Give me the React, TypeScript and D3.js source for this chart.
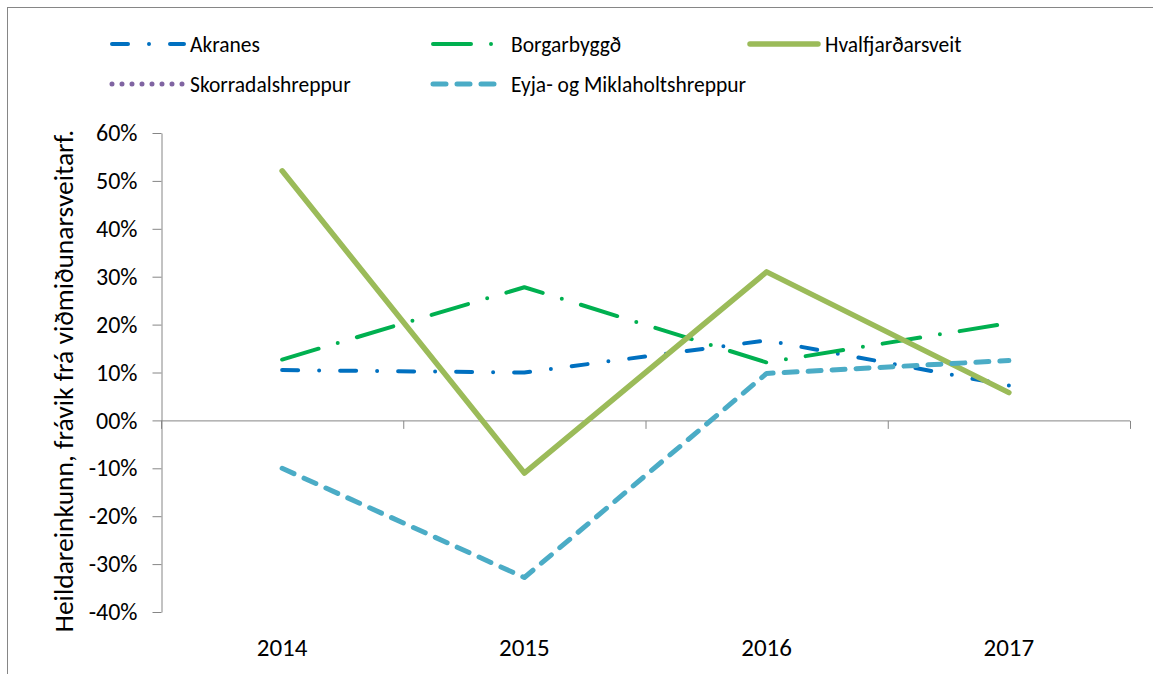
import { useEffect, useRef } from "react";
import * as d3 from "d3";

const years = ["2014", "2015", "2016", "2017"];
const akranes = [0.105, 0.1, 0.167, 0.073];
const borgarbyggd = [0.127, 0.278, 0.121, 0.203];
const hvalfjardarsveit = [0.521, -0.11, 0.31, 0.058];
const skorradalshreppur: (number | null)[] = [null, null, null, null];
const eyjaMiklaholts = [-0.1, -0.328, 0.098, 0.125];
const yTicks = [-0.4, -0.3, -0.2, -0.1, 0, 0.1, 0.2, 0.3, 0.4, 0.5, 0.6];

const series = [
  { name: "Akranes", values: akranes, color: "#0070C0", width: 4, dash: "16 21 0 21", row: 0, col: 0 },
  { name: "Borgarbyggð", values: borgarbyggd, color: "#00B050", width: 4, dash: "38 20 0 20", row: 0, col: 1 },
  { name: "Hvalfjarðarsveit", values: hvalfjardarsveit, color: "#9BBB59", width: 5.5, dash: null, row: 0, col: 2 },
  { name: "Skorradalshreppur", values: skorradalshreppur, color: "#8064A2", width: 5, dash: "0 10", row: 1, col: 0 },
  { name: "Eyja- og Miklaholtshreppur", values: eyjaMiklaholts, color: "#4BACC6", width: 5, dash: "13 11", row: 1, col: 1 },
];

const FONT = "Carlito, Calibri, 'Open Sans', sans-serif";

const App = () => {
  const ref = useRef<SVGSVGElement | null>(null);

  useEffect(() => {
    drawChart();
  }, []);

  const drawChart = () => {
    const svg = d3.select(ref.current);
    svg.selectAll("*").remove();

    // outer frame
    svg
      .append("rect")
      .attr("x", 7.5)
      .attr("y", 7.5)
      .attr("width", 1160)
      .attr("height", 700)
      .attr("fill", "none")
      .attr("stroke", "#868686")
      .attr("stroke-width", 1);

    const xScale = d3.scaleBand().domain(years).range([161, 1130]).padding(0);
    const yScale = d3.scaleLinear().domain([-0.4, 0.6]).range([612, 133]);

    // Y axis
    svg
      .append("g")
      .attr("transform", `translate(161.5,0)`)
      .call(
        d3
          .axisLeft(yScale)
          .tickValues(yTicks)
          .tickSize(9)
          .tickSizeOuter(0)
          .tickPadding(15)
          .tickFormat((d) => {
            const v = Math.round((d as number) * 100);
            return v === 0 ? "00%" : `${v}%`;
          })
      )
      .call((g) => g.selectAll("line, path").attr("stroke", "#868686"))
      .call((g) => g.selectAll("text").attr("fill", "#000").style("font-size", "24px").style("font-family", FONT));

    // X axis at zero
    const xAxis = svg.append("g").attr("transform", `translate(0,${yScale(0) + 0.5})`);
    xAxis
      .append("line")
      .attr("x1", 161)
      .attr("x2", 1130)
      .attr("stroke", "#868686");
    const boundaries = years.map((y) => xScale(y)!).concat([1130]);
    xAxis
      .selectAll("line.tick")
      .data(boundaries)
      .join("line")
      .attr("class", "tick")
      .attr("x1", (d) => d + 0.5)
      .attr("x2", (d) => d + 0.5)
      .attr("y1", 0)
      .attr("y2", 8)
      .attr("stroke", "#868686");

    // X labels at bottom
    svg
      .append("g")
      .selectAll("text")
      .data(years)
      .join("text")
      .attr("x", (d) => xScale(d)! + xScale.bandwidth() / 2)
      .attr("y", 656)
      .attr("text-anchor", "middle")
      .style("font-size", "25px")
      .style("font-family", FONT)
      .text((d) => d);

    // Y title
    svg
      .append("text")
      .attr("transform", `translate(63,381) rotate(-90)`)
      .attr("text-anchor", "middle")
      .attr("dy", "0.35em")
      .style("font-size", "27.5px")
      .style("font-family", FONT)
      .text("Heildareinkunn, frávik frá viðmiðunarsveitarf.");

    // lines
    const line = d3
      .line<number | null>()
      .defined((d) => d !== null)
      .x((_, i) => xScale(years[i])! + xScale.bandwidth() / 2)
      .y((d) => yScale(d as number));

    svg
      .append("g")
      .selectAll("path")
      .data(series)
      .join("path")
      .attr("d", (s) => line(s.values))
      .attr("fill", "none")
      .attr("stroke", (s) => s.color)
      .attr("stroke-width", (s) => s.width)
      .attr("stroke-linecap", "round")
      .attr("stroke-linejoin", "round")
      .attr("stroke-dasharray", (s) => s.dash);

    // legend
    const colX = [112, 433, 750];
    const rowY = [44, 84];
    const leg = svg
      .append("g")
      .selectAll("g")
      .data(series)
      .join("g")
      .attr("transform", (s) => `translate(${colX[s.col]},${rowY[s.row]})`);
    leg
      .append("line")
      .attr("x1", 0)
      .attr("x2", (s) => (s.col === 2 ? 68 : 72))
      .attr("stroke", (s) => s.color)
      .attr("stroke-width", (s) => s.width)
      .attr("stroke-linecap", "round")
      .attr("stroke-dasharray", (s) => s.dash);
    leg
      .append("text")
      .attr("x", (s) => (s.col === 2 ? 75 : 78))
      .attr("dy", "0.35em")
      .style("font-size", "21.5px")
      .style("font-family", FONT)
      .text((s) => s.name);
  };

  return <svg ref={ref} width={1153} height={674} style={{ position: "absolute", left: 0, top: 0, background: "#fff" }} />;
};

export default App;
